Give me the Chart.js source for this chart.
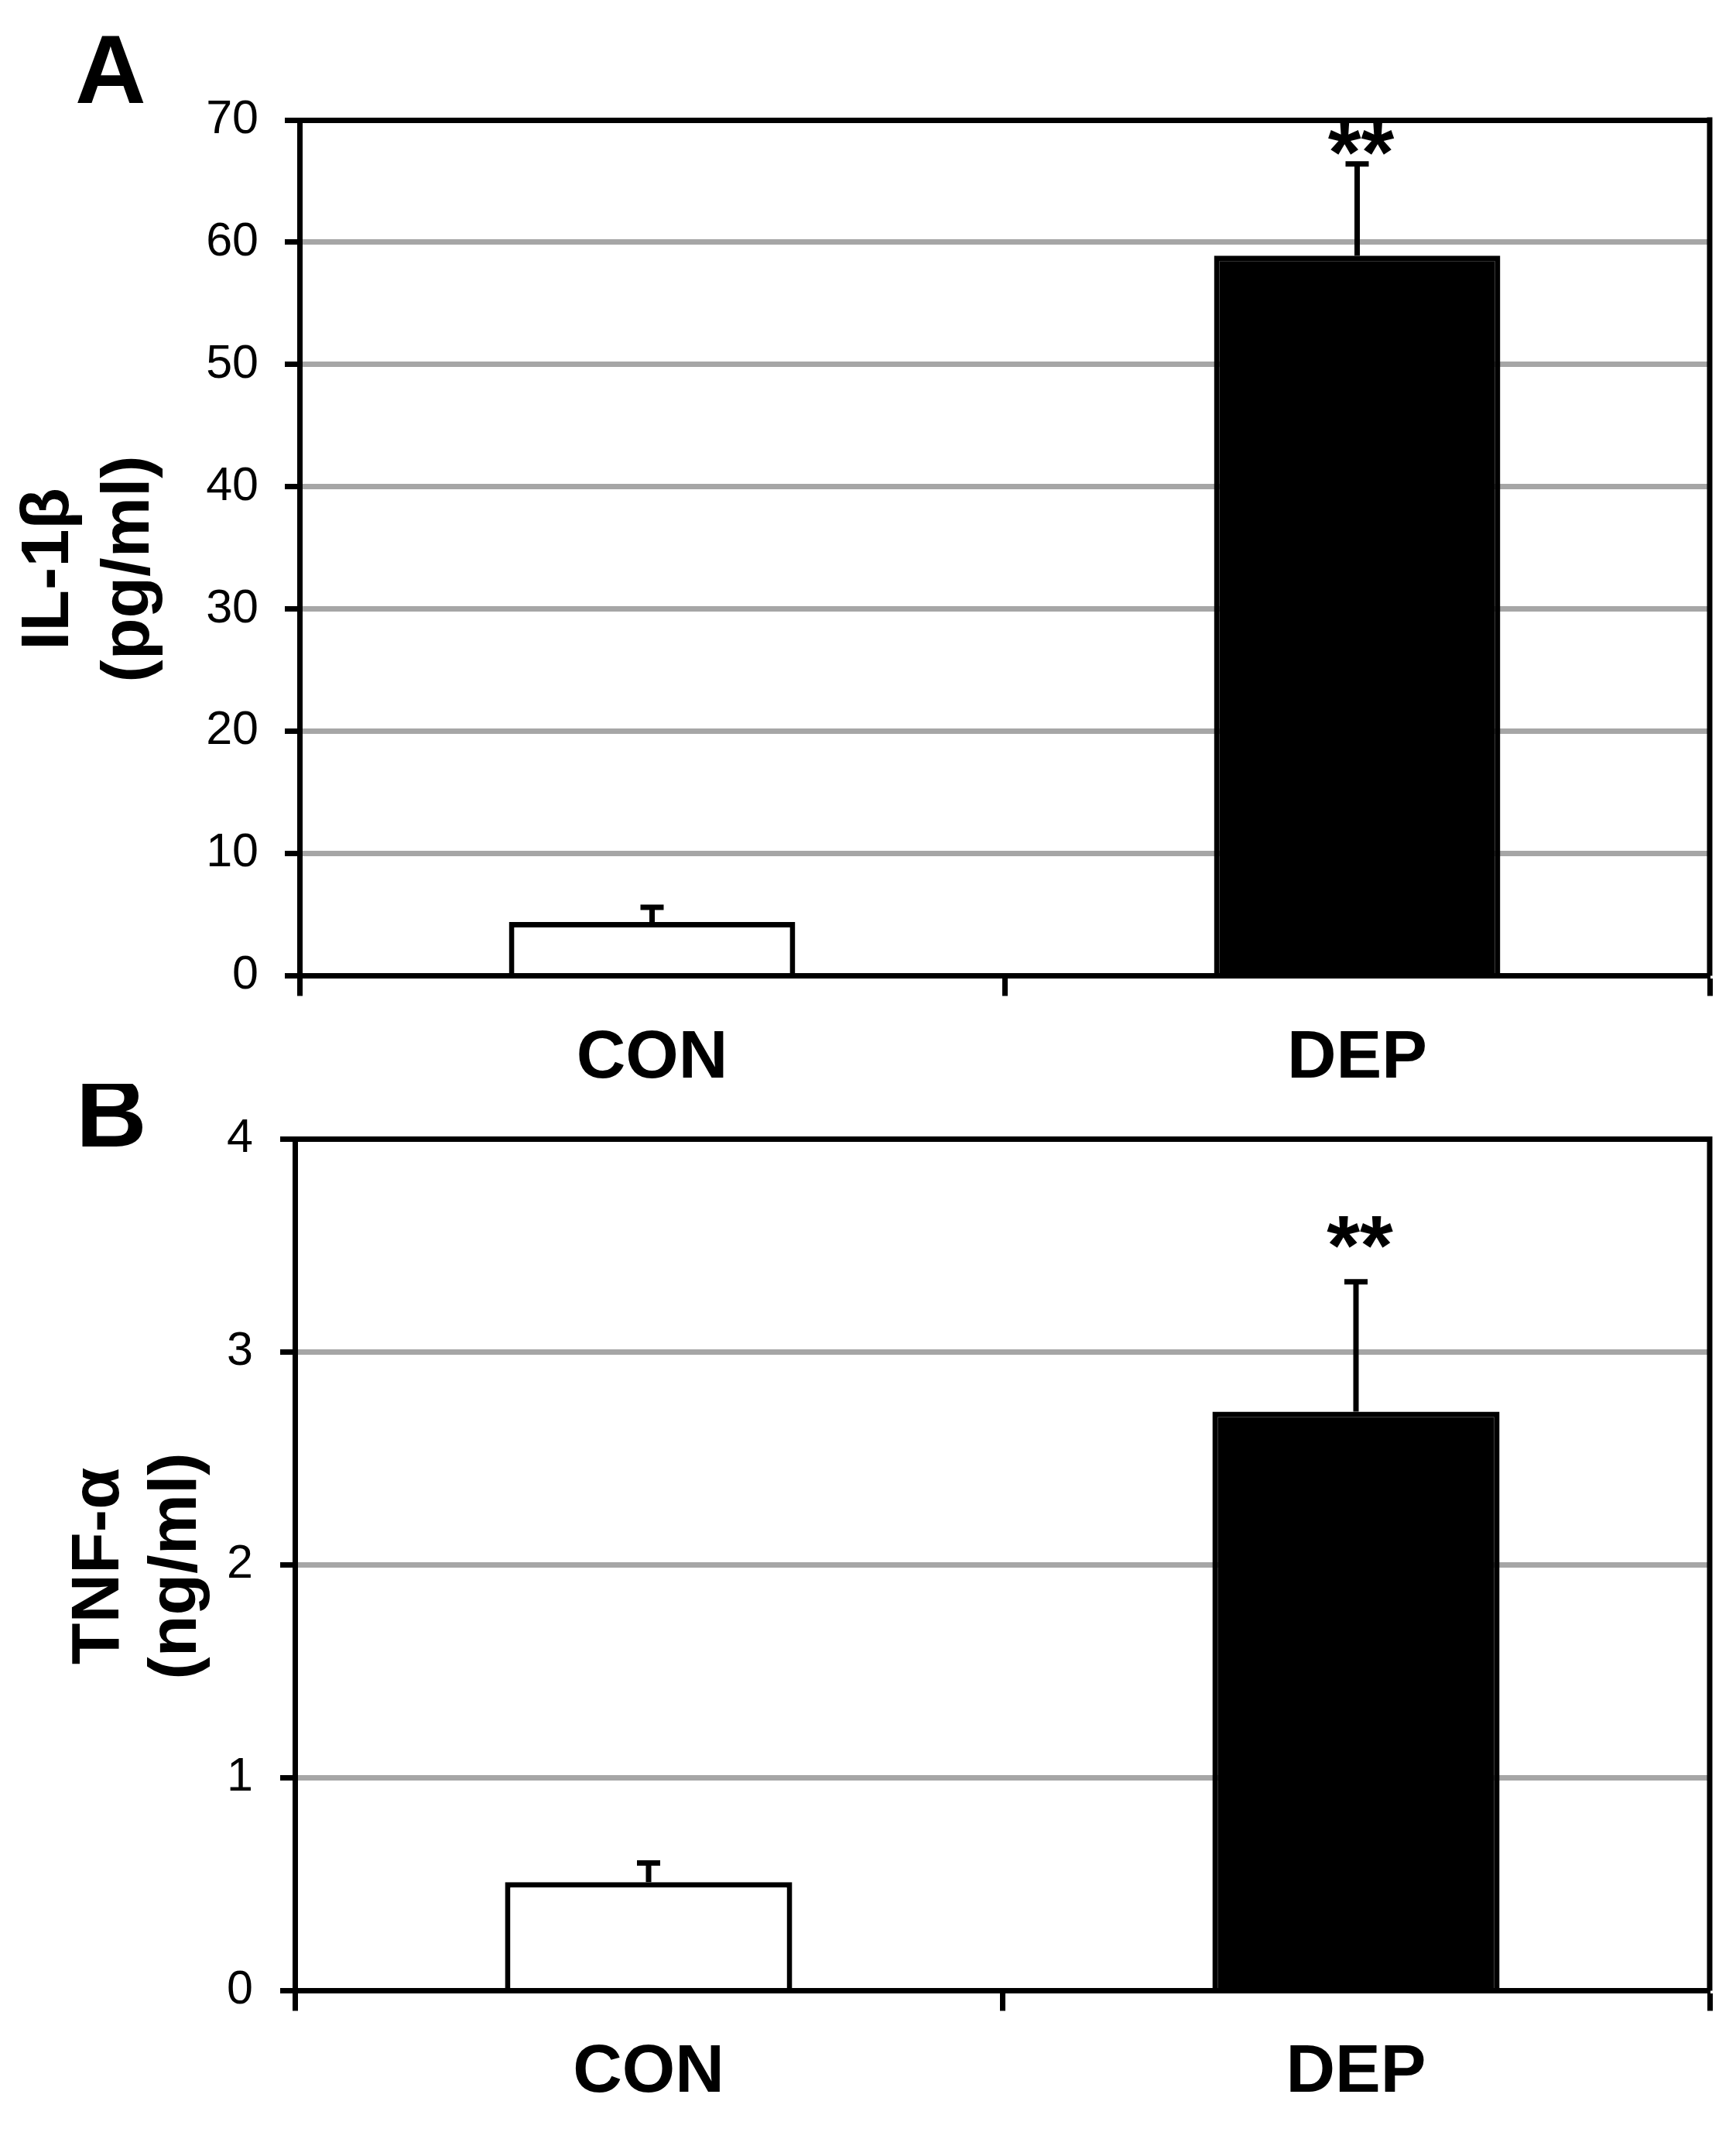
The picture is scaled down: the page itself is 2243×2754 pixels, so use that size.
<!DOCTYPE html>
<html>
<head>
<meta charset="utf-8">
<title>IL-1β and TNF-α</title>
<script src="https://cdn.jsdelivr.net/npm/chart.js@4.4.1/dist/chart.umd.min.js"></script>
<style>
  html, body { margin: 0; padding: 0; background: #fff; }
  #figure { position: relative; width: 2243px; height: 2754px; background: #fff; }
  #figure canvas { position: absolute; left: 0; }
  #panelA { top: 0; }
  #panelB { top: 1400px; }
</style>
</head>
<body>
<div id="figure">
  <canvas id="panelA" width="2243" height="1400"></canvas>
  <canvas id="panelB" width="2243" height="1354"></canvas>
</div>
<script>
// Data
const groups = ['CON', 'DEP'];
const barFills = ['#ffffff', '#000000'];

const il1bMean = [4.4, 58.9];
const il1bSem = [1.2, 7.5];
const il1bStars = ['', '**'];
const il1bTicks = [0, 10, 20, 30, 40, 50, 60, 70];

const tnfMean = [0.51, 2.72];
const tnfSem = [0.09, 0.61];
const tnfStars = ['', '**'];
const tnfTicks = [0, 1, 2, 3, 4];

document.addEventListener('DOMContentLoaded', () => {

    const INK = '#000000';
    const GRID = '#a6a6a6';
    const LINE = 7;
    const CAP = 30;
    const FONT = "'Liberation Sans', Arial, sans-serif";

    Chart.defaults.color = INK;
    Chart.defaults.font.family = FONT;

    // --- 1. Extras drawn on top: error bars, stars, right border, letter, y title ---
    const panelExtras = (p) => ({
        id: 'panelExtras',
        afterDatasetsDraw(chart) {
            const { ctx } = chart;
            const yScale = chart.scales.y;
            const bars = chart.getDatasetMeta(0).data;

            ctx.save();
            ctx.strokeStyle = INK;
            ctx.fillStyle = INK;
            ctx.lineWidth = LINE;
            ctx.lineCap = 'butt';

            bars.forEach((bar, i) => {
                const top = yScale.getPixelForValue(p.mean[i] + p.sem[i]);
                ctx.beginPath();
                ctx.moveTo(bar.x, bar.y);
                ctx.lineTo(bar.x, top);
                ctx.moveTo(bar.x - CAP / 2, top);
                ctx.lineTo(bar.x + CAP / 2, top);
                ctx.stroke();

                if (p.stars[i]) {
                    ctx.font = `bold 110px ${FONT}`;
                    ctx.textAlign = 'center';
                    ctx.textBaseline = 'alphabetic';
                    const m = ctx.measureText(p.stars[i]);
                    const bottom = top - LINE / 2 - p.starGap;
                    ctx.fillText(p.stars[i], bar.x + 5, bottom - m.actualBoundingBoxDescent);
                }
            });
            ctx.restore();
        },
        afterDraw(chart) {
            const { ctx, chartArea: a } = chart;
            ctx.save();

            // plot area border on the right
            ctx.strokeStyle = INK;
            ctx.lineWidth = LINE;
            ctx.beginPath();
            ctx.moveTo(a.right, a.top - LINE / 2);
            ctx.lineTo(a.right, a.bottom);
            ctx.stroke();

            // panel letter
            ctx.fillStyle = INK;
            ctx.font = `bold 127px ${FONT}`;
            ctx.textAlign = 'left';
            ctx.textBaseline = 'alphabetic';
            ctx.fillText(p.letter, p.letterX, p.letterY);

            // two-line rotated y title
            ctx.font = `bold 88px ${FONT}`;
            ctx.textAlign = 'center';
            p.title.forEach((line, k) => {
                ctx.save();
                ctx.translate(p.titleX[k], p.titleY);
                ctx.rotate(-Math.PI / 2);
                ctx.fillText(line, 0, 0);
                ctx.restore();
            });
            ctx.restore();
        }
    });

    // --- 2. One bar panel ---
    const buildPanel = (canvasId, p) => {
        const yMin = p.ticks[0];
        const yMax = p.ticks[p.ticks.length - 1];
        const canvas = document.getElementById(canvasId);

        return new Chart(canvas, {
            type: 'bar',
            data: {
                labels: groups,
                datasets: [{
                    data: p.mean,
                    backgroundColor: barFills,
                    borderColor: INK,
                    borderWidth: LINE,
                    borderSkipped: 'start',
                    barPercentage: 0.406,
                    categoryPercentage: 1
                }]
            },
            options: {
                responsive: false,
                animation: false,
                devicePixelRatio: 1,
                layout: {
                    padding: { top: p.plotTop, right: canvas.width - 2209, left: 0, bottom: 0 }
                },
                plugins: {
                    legend: { display: false },
                    tooltip: { enabled: false }
                },
                scales: {
                    x: {
                        z: 1,
                        grid: {
                            drawOnChartArea: false,
                            tickLength: 26,
                            tickWidth: LINE,
                            tickColor: INK
                        },
                        border: { color: INK, width: LINE },
                        ticks: {
                            color: INK,
                            padding: p.xLabelPad,
                            font: { size: 88, weight: 'bold', family: FONT }
                        },
                        afterFit: (s) => { s.height = canvas.height - p.plotBottom; }
                    },
                    y: {
                        min: yMin,
                        max: yMax,
                        ticks: {
                            stepSize: p.ticks[1] - p.ticks[0],
                            color: INK,
                            padding: p.yLabelPad,
                            font: { size: 61, family: FONT }
                        },
                        grid: {
                            color: (c) => (c.tick && (c.tick.value === yMax || c.tick.value === yMin)) ? INK : GRID,
                            lineWidth: LINE,
                            tickLength: 19,
                            tickWidth: LINE,
                            tickColor: INK
                        },
                        border: { color: INK, width: LINE },
                        afterFit: (s) => { s.width = p.plotLeft; }
                    }
                }
            },
            plugins: [panelExtras(p)]
        });
    };

    // --- 3. Panels A and B ---
    buildPanel('panelA', {
        mean: il1bMean, sem: il1bSem, stars: il1bStars, ticks: il1bTicks,
        plotLeft: 387, plotTop: 155, plotBottom: 1260.5,
        xLabelPad: 28, yLabelPad: 34, starGap: 8,
        letter: 'A', letterX: 97, letterY: 133,
        title: ['IL-1β', '(pg/ml)'], titleX: [88, 192], titleY: 735
    });

    buildPanel('panelB', {
        mean: tnfMean, sem: tnfSem, stars: tnfStars, ticks: tnfTicks,
        plotLeft: 381, plotTop: 65, plotBottom: 1171.5,
        xLabelPad: 27, yLabelPad: 35, starGap: 40,
        letter: 'B', letterX: 98, letterY: 81,
        title: ['TNF-α', '(ng/ml)'], titleX: [153, 253], titleY: 623
    });

});
</script>
</body>
</html>
